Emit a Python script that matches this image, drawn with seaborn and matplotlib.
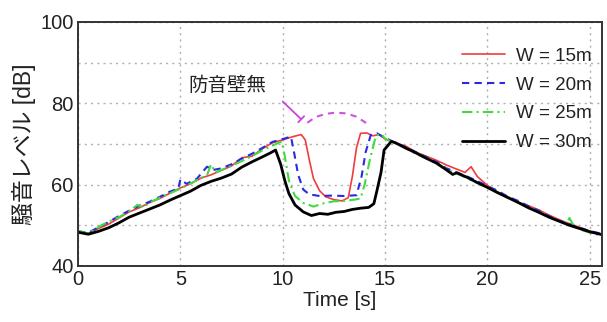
import pandas as pd
import seaborn as sns
from matplotlib import pyplot as plt

# W = 15m
t_15 = [0, 0.5, 1.0, 1.5, 2.0, 2.5, 3.0, 3.5, 4.0, 4.5, 5.0, 5.5, 6.0, 6.5, 7.0, 7.5, 8.0, 8.5,
        9.0, 9.5, 10.0, 10.5, 10.9, 11.1, 11.3, 11.5, 11.8, 12.1, 12.5, 12.9, 13.2, 13.4, 13.6,
        13.8, 14.1, 14.4, 14.7, 15.0, 15.5, 16.0, 16.5, 17.0, 17.5, 18.0, 18.5, 18.9, 19.2, 19.5,
        20.0, 20.5, 21.0, 21.5, 22.0, 22.5, 23.0, 23.5, 24.0, 24.5, 25.0, 25.6]
db_15 = [48.5, 48.0, 49.2, 50.3, 51.8, 53.3, 54.3, 55.6, 56.6, 57.9, 59.2, 60.2, 61.6, 62.4, 63.5,
         64.6, 66.6, 67.0, 68.8, 70.3, 71.0, 71.8, 72.3, 71.0, 66.0, 61.5, 58.5, 57.0, 56.3, 56.0,
         56.8, 62.0, 69.0, 72.6, 72.7, 72.0, 72.3, 71.2, 70.2, 69.5, 68.0, 67.0, 66.0, 64.8, 63.8,
         63.0, 64.4, 62.0, 59.8, 58.2, 57.0, 55.7, 54.8, 53.8, 52.5, 51.4, 50.4, 49.5, 48.6, 47.6]

# W = 20m
t_20 = [0, 0.5, 1.0, 1.5, 2.0, 2.5, 3.0, 3.5, 4.0, 4.5, 4.9, 5.0, 5.3, 5.8, 6.3, 6.6, 7.0, 7.5,
        8.0, 8.5, 9.0, 9.5, 10.0, 10.4, 10.55, 10.75, 11.0, 11.3, 11.8, 12.4, 13.0, 13.6, 13.85,
        14.05, 14.3, 14.6, 15.0, 15.5, 16.0, 16.5, 17.0, 17.5, 18.0, 18.5, 19.0, 19.5, 20.0, 20.5,
        21.0, 21.5, 22.0, 22.5, 23.0, 23.5, 24.0, 24.5, 25.0, 25.6]
db_20 = [48.5, 48.2, 49.5, 50.8, 52.3, 53.6, 54.8, 55.8, 57.0, 58.3, 59.0, 61.3, 60.2, 61.4, 64.4,
         63.6, 64.0, 65.0, 66.4, 67.6, 69.0, 70.5, 71.2, 71.8, 68.0, 62.5, 58.8, 57.6, 57.2, 57.3,
         57.2, 57.4, 62.0, 68.0, 72.2, 72.6, 71.5, 70.3, 69.2, 68.0, 66.8, 65.6, 64.0, 63.0, 62.0,
         60.9, 59.6, 58.5, 57.0, 56.0, 54.7, 53.6, 52.3, 51.1, 50.3, 49.4, 48.6, 47.9]

# W = 25m
t_25 = [0, 0.5, 1.0, 1.5, 2.0, 2.5, 2.9, 3.2, 3.5, 4.0, 4.5, 5.0, 5.5, 6.0, 6.3, 6.5, 6.7, 7.0,
        7.5, 8.0, 8.5, 9.0, 9.5, 9.95, 10.1, 10.3, 10.6, 11.0, 11.5, 12.0, 12.5, 13.0, 13.5, 13.8,
        14.0, 14.25, 14.55, 14.8, 15.0, 15.5, 16.0, 16.5, 17.0, 17.5, 18.0, 18.5, 19.0, 19.5, 20.0,
        20.5, 21.0, 21.5, 22.0, 22.5, 23.0, 23.5, 23.9, 24.0, 24.2, 24.5, 25.0, 25.6]
db_25 = [48.6, 48.0, 49.6, 50.9, 52.0, 53.5, 55.0, 54.4, 55.6, 56.8, 57.9, 59.0, 60.3, 61.6, 62.3,
         65.0, 63.0, 63.6, 64.6, 65.8, 67.0, 68.4, 69.6, 70.6, 67.0, 61.0, 57.2, 55.5, 54.6, 55.4,
         55.9, 56.0, 56.3, 56.6, 60.0, 66.0, 72.0, 72.5, 71.3, 70.1, 69.0, 67.6, 66.5, 65.3, 63.8,
         62.7, 61.6, 60.4, 59.3, 58.1, 56.8, 55.6, 54.4, 53.2, 52.0, 51.0, 50.6, 51.8, 50.0, 49.0,
         48.2, 47.4]

# W = 30m
t_30 = [0, 0.5, 1.0, 1.5, 2.0, 2.5, 3.0, 3.5, 4.0, 4.5, 5.0, 5.5, 6.0, 6.5, 7.0, 7.5, 8.0, 8.5,
        9.0, 9.4, 9.65, 9.9, 10.1, 10.3, 10.6, 11.0, 11.4, 11.8, 12.2, 12.6, 13.0, 13.4, 13.8,
        14.2, 14.45, 14.6, 14.8, 14.95, 15.3, 15.5, 16.0, 16.5, 17.0, 17.5, 18.0, 18.3, 18.5,
        19.0, 19.5, 20.0, 20.5, 21.0, 21.5, 22.0, 22.5, 23.0, 23.5, 24.0, 24.5, 25.0, 25.6]
db_30 = [48.3, 47.8, 48.5, 49.4, 50.6, 52.0, 53.0, 54.0, 55.0, 56.2, 57.3, 58.4, 59.8, 60.8, 61.6,
         62.6, 64.3, 65.6, 66.8, 67.8, 68.5, 65.0, 61.0, 57.8, 55.0, 53.3, 52.4, 52.9, 52.7, 53.2,
         53.4, 53.9, 54.2, 54.4, 55.3, 58.5, 63.0, 68.5, 70.6, 70.3, 69.0, 67.8, 66.5, 65.3, 63.6,
         62.5, 62.9, 61.8, 60.5, 59.3, 58.0, 56.8, 55.6, 54.3, 53.2, 52.0, 51.0, 50.0, 49.2, 48.4,
         47.7]

# no barrier (dashed arc)
t_none = [11.2, 11.6, 12.1, 12.6, 13.1, 13.6, 14.0, 14.2]
db_none = [75.2, 76.6, 77.4, 77.7, 77.5, 76.7, 75.4, 74.6]

labels = ["W = 15m", "W = 20m", "W = 25m", "W = 30m"]
colors = ["#f03c3c", "#2a2ae0", "#3fdc3f", "#000000"]
styles = ["-", (0, (3.5, 2.5)), (0, (5, 2, 1, 2)), "-"]
widths = [1.2, 1.5, 1.5, 2.0]

sns.set_theme(style="white")
plt.rcParams['font.family'] = ['Liberation Sans', 'Noto Sans CJK JP']

fig, ax = plt.subplots(figsize=(6.07, 3.22), dpi=100)
fig.subplots_adjust(left=0.1285, right=0.992, bottom=0.174, top=0.932)

series = [(t_15, db_15), (t_20, db_20), (t_25, db_25), (t_30, db_30)]
for (t, db), lab, c, ls, lw in zip(series, labels, colors, styles, widths):
    sns.lineplot(x=t, y=db, ax=ax, color=c, linestyle=ls, linewidth=lw, label=lab, sort=False)

sns.lineplot(x=t_none, y=db_none, ax=ax, color="#cc55dd", linestyle=(0, (3, 2.5)),
             linewidth=1.5, sort=False)
ax.annotate("", xy=(11.0, 75.6), xytext=(9.9, 80.9),
            arrowprops=dict(arrowstyle="-[, widthB=0.25, lengthB=0", color="#cc44dd", lw=1.3))
ax.text(7.3, 84.3, "防音壁無", fontsize=14, ha="center", va="center", color="#222222")

ax.set_xlim(0, 25.6)
ax.set_ylim(40, 100)
ax.set_xticks([0, 5, 10, 15, 20, 25])
ax.set_yticks([40, 60, 80, 100])
ax.set_yticks([50, 70, 90], minor=True)
ax.grid(True, which="both", color="#b0b0b0", linestyle=(0, (1.5, 3)), linewidth=1.0)
ax.tick_params(axis="both", which="major", labelsize=14.5, direction="in", length=3,
               colors="#222222", pad=3)
ax.tick_params(axis="y", which="minor", length=0)
for sp in ax.spines.values():
    sp.set_color("#333333")
    sp.set_linewidth(1.4)

ax.set_xlabel("Time [s]", fontsize=15, color="#222222", labelpad=1)
ax.set_ylabel("騒音レベル [dB]", fontsize=16.5, color="#222222", labelpad=3)

leg = ax.legend(loc="upper right", bbox_to_anchor=(0.995, 0.925), frameon=False, fontsize=13.5,
                handlelength=2.3, handletextpad=0.6, labelspacing=0.62, borderaxespad=0)
for txt in leg.get_texts():
    txt.set_color("#222222")

fig.savefig("out.png", dpi=100)
